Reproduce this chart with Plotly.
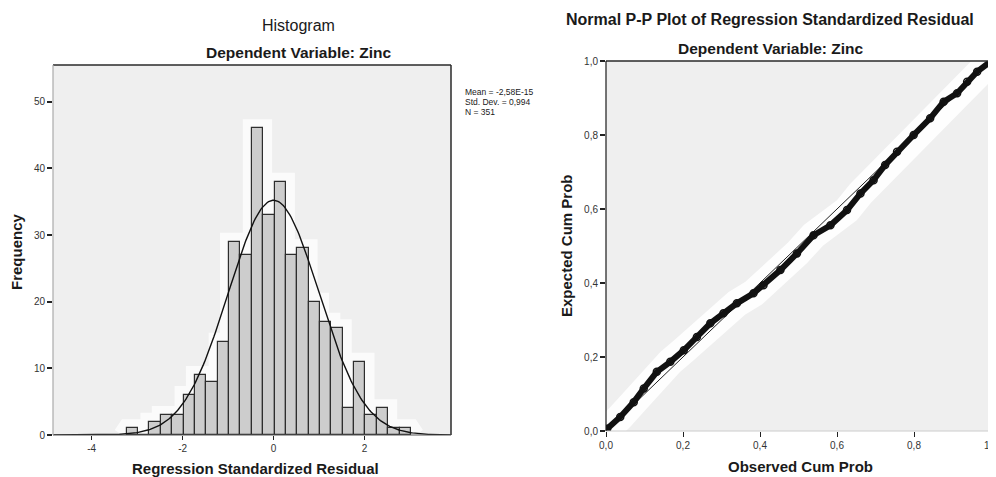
import numpy as np
import plotly.graph_objects as go

# ---------------- data ----------------
hist_counts = [1, 0, 2, 3, 3, 6, 9, 8, 14, 29, 27, 46, 33, 38, 27, 28, 20, 17, 16, 4, 11, 3, 4, 1, 1]
hist_bin_start = -3.23
hist_bin_width = 0.25
resid_mean = 0.0
resid_std = 0.994
resid_n = 351
stats_lines = ["Mean = -2,58E-15", "Std. Dev. = 0,994", "N = 351"]
hist_xticks = [-4, -2, 0, 2]
hist_xticktext = ["-4", "-2", "0", "2"]
hist_yticks = [0, 10, 20, 30, 40, 50]

pp_observed = [0.0, 0.003, 0.037, 0.072, 0.098, 0.132, 0.167, 0.202, 0.236, 0.271, 0.305,
               0.340, 0.383, 0.409, 0.453, 0.496, 0.539, 0.583, 0.626, 0.661, 0.695,
               0.725, 0.756, 0.799, 0.842, 0.877, 0.912, 0.938, 0.964, 0.998, 1.0]
pp_expected = [0.0, 0.006, 0.038, 0.078, 0.115, 0.160, 0.187, 0.218, 0.254, 0.291, 0.318,
               0.345, 0.372, 0.394, 0.435, 0.480, 0.529, 0.556, 0.597, 0.642, 0.678,
               0.719, 0.755, 0.800, 0.845, 0.890, 0.913, 0.944, 0.971, 0.998, 1.0]
pp_ticks = [0.0, 0.2, 0.4, 0.6, 0.8, 1.0]
pp_ticktext = ["0,0", "0,2", "0,4", "0,6", "0,8", "1,0"]

# ---------------- layout helpers ----------------
OFF = 8                      # default body margin of the html page
W, H = 996 - OFF, 477 - OFF  # figure size so it fits the window exactly
def px(x):
    return (x - OFF) / W
def py(y):
    return 1 - (y - OFF) / H

FONT = "Liberation Sans, Arial, sans-serif"
TXT = "#1a1a1a"

h_x0, h_x1, h_y0, h_y1 = 53, 451, 65, 435      # histogram plot box (window pixels)
p_x0, p_x1, p_y0, p_y1 = 606, 991, 61, 431      # P-P plot box (window pixels)

centers = [hist_bin_start + hist_bin_width * (i + 0.5) for i in range(len(hist_counts))]

fig = go.Figure()

# soft white halo around histogram envelope (shape below traces)
pts = [(hist_bin_start - 0.1, 0)]
for i, c in enumerate(hist_counts):
    left = hist_bin_start + i * hist_bin_width
    pts += [(left, c), (left + hist_bin_width, c)]
pts.append((hist_bin_start + len(hist_counts) * hist_bin_width + 0.1, 0))
path = "M " + " L ".join(f"{x},{y}" for x, y in pts)
fig.add_shape(type="path", path=path, xref="x", yref="y", layer="below",
              line=dict(color="rgba(255,255,255,0.75)", width=18))

fig.add_trace(go.Bar(x=centers, y=hist_counts, width=hist_bin_width,
                     marker=dict(color="#cdcdcd", line=dict(color="#2e2e2e", width=1.2)),
                     showlegend=False, xaxis="x", yaxis="y"))

# normal curve from the displayed statistics
xs = np.linspace(-4.85, 3.9, 300)
ys = resid_n * hist_bin_width / (resid_std * np.sqrt(2 * np.pi)) * np.exp(-0.5 * ((xs - resid_mean) / resid_std) ** 2)
fig.add_trace(go.Scatter(x=xs, y=ys, mode="lines", line=dict(color="#111111", width=1.4),
                         hoverinfo="skip", showlegend=False, xaxis="x", yaxis="y"))

# P-P plot
fig.add_trace(go.Scatter(x=pp_observed, y=pp_expected, mode="lines",
                         line=dict(color="rgba(255,255,255,0.9)", width=28),
                         hoverinfo="skip", showlegend=False, xaxis="x2", yaxis="y2"))
fig.add_trace(go.Scatter(x=[0, 1], y=[0, 1], mode="lines", line=dict(color="#222222", width=1),
                         hoverinfo="skip", showlegend=False, xaxis="x2", yaxis="y2"))
fig.add_trace(go.Scatter(x=pp_observed, y=pp_expected, mode="lines+markers",
                         line=dict(color="#111111", width=6),
                         marker=dict(symbol="circle-open", size=7, color="#111111", line=dict(width=1.5)),
                         showlegend=False, xaxis="x2", yaxis="y2"))

axis_common = dict(showgrid=False, zeroline=False, ticks="outside", tickcolor="#222222",
                   tickfont=dict(family=FONT, size=10, color="#333333"), showline=False,
                   fixedrange=True, automargin=False, ticklabeloverflow="allow")

fig.update_layout(
    width=W, height=H,
    margin=dict(l=0, r=0, t=0, b=0, autoexpand=False),
    paper_bgcolor="white", plot_bgcolor="#efefef",
    font=dict(family=FONT, color=TXT),
    bargap=0,
    xaxis=dict(domain=[px(h_x0), px(h_x1)], range=[-4.85, 3.9], anchor="y",
               tickvals=hist_xticks, ticktext=hist_xticktext, ticklen=4, **axis_common),
    yaxis=dict(domain=[py(h_y1), py(h_y0)], range=[0, 55.5], anchor="x",
               tickvals=hist_yticks, ticklen=5, tickwidth=1.5, **axis_common),
    xaxis2=dict(domain=[px(p_x0), px(p_x1)], range=[0, 1], anchor="y2",
                tickvals=pp_ticks, ticktext=pp_ticktext, ticklen=5, **axis_common),
    yaxis2=dict(domain=[py(p_y1), py(p_y0)], range=[0, 1], anchor="x2",
                tickvals=pp_ticks, ticktext=pp_ticktext, ticklen=5, tickwidth=1.5, **axis_common),
)

# frames
def frame(x0, x1, y0, y1, top, right, bottom, left):
    segs = [((x0, y0), (x1, y0), top, 1.5), ((x1, y0), (x1, y1), right, 1.5),
            ((x0, y1), (x1, y1), bottom, 1), ((x0, y0), (x0, y1), left, 1.2)]
    for (a, b, col, w) in segs:
        fig.add_shape(type="line", xref="paper", yref="paper",
                      x0=px(a[0]), y0=py(a[1]), x1=px(b[0]), y1=py(b[1]),
                      line=dict(color=col, width=w))

frame(h_x0, h_x1, h_y0, h_y1, "#2a2a2a", "#2a2a2a", "#555555", "#aaaaaa")
frame(p_x0, p_x1, p_y0, p_y1, "#2a2a2a", "#444444", "#cccccc", "#1a1a1a")

def text(x, y, s, size=13, bold=False, angle=0, xanchor="center"):
    fig.add_annotation(x=px(x), y=py(y), xref="paper", yref="paper",
                       text=f"<b>{s}</b>" if bold else s, showarrow=False,
                       textangle=angle, xanchor=xanchor, yanchor="middle",
                       font=dict(family=FONT, size=size, color=TXT))

text(298, 25, "Histogram", size=16)
text(299, 53, "Dependent Variable: Zinc", size=15.5, bold=True)
text(770, 20, "Normal P-P Plot of Regression Standardized Residual", size=16, bold=True)
text(771, 48, "Dependent Variable: Zinc", size=15.5, bold=True)
text(256, 468, "Regression Standardized Residual", size=15, bold=True)
text(800, 466, "Observed Cum Prob", size=15, bold=True)
text(16, 252, "Frequency", size=15, bold=True, angle=-90)
text(566, 246, "Expected Cum Prob", size=15, bold=True, angle=-90)
for i, s in enumerate(stats_lines):
    text(463, 92 + 10 * i, s, size=8.5, xanchor="left")

fig.write_html("out.html")
